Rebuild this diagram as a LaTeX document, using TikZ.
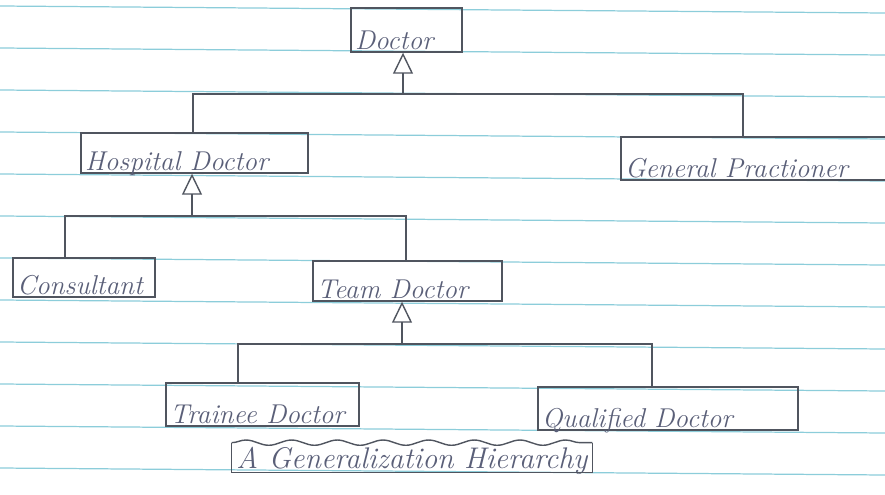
\documentclass[tikz,border=0pt]{standalone}
\usetikzlibrary{arrows.meta,fit,decorations.pathmorphing}

\definecolor{ruled}{RGB}{140,205,218}
\definecolor{pencil}{RGB}{80,85,95}
\definecolor{ink}{RGB}{90,95,120}
\newcommand\umlfont{\fontsize{15.5}{19}\selectfont\itshape}
\newcommand\umlcapfont{\fontsize{17}{20}\selectfont\itshape}
\tikzset{
  umlbox/.style={draw=pencil, line width=0.8pt, inner sep=0pt},
  umlline/.style={draw=pencil, line width=0.8pt},
  umlgen/.style={umlline, -{Triangle[open, length=0.42cm, width=0.4cm, line width=0.8pt]}},
  umllabel/.style={anchor=base west, inner sep=0pt, text=ink, font=\umlfont, xshift=2.5pt, yshift=2pt},
}

\begin{document}
\begin{tikzpicture}[x=0.02cm, y=-0.02cm]
  \useasboundingbox (0,0) rectangle (885,494);
  \clip (0,0) rectangle (885,494);
  % ruled paper
  \foreach \y in {6,48,...,510}
    \draw[ruled, line width=0.7pt] (0,\y) -- (885,\y+7);

  % classes
  \node[umlbox, fit={(351,8) (462,52)}] (doctor) {};
  \node[umllabel] (doctortext) at (doctor.south west) {Doctor};
  \node[umlbox, fit={(81,133) (308,173)}] (hosp) {};
  \node[umllabel] (hosptext) at (hosp.south west) {Hospital Doctor};
  \node[umlbox, fit={(621,137) (895,180)}] (gp) {};
  \node[umllabel] (gptext) at (gp.south west) {General Practioner};
  \node[umlbox, fit={(13,258) (155,297)}] (cons) {};
  \node[umllabel] (constext) at (cons.south west) {Consultant};
  \node[umlbox, fit={(313,261) (502,301)}] (team) {};
  \node[umllabel] (teamtext) at (team.south west) {Team Doctor};
  \node[umlbox, fit={(166,383) (359,426)}] (trainee) {};
  \node[umllabel] (traineetext) at (trainee.south west) {Trainee Doctor};
  \node[umlbox, fit={(538,387) (798,430)}] (qual) {};
  \node[umllabel] (qualtext) at (qual.south west) {Qualified Doctor};

  % generalisation: doctor
  \coordinate (bara) at (403,94);
  \coordinate (baral) at (193,94);
  \coordinate (barar) at (743,94);
  \draw[umlgen] (bara) -- (bara |- doctor.south);
  \draw[umlline] (baral |- hosp.north) -- (baral) -- (barar) -- (barar |- gp.north);

  % generalisation: hospital doctor
  \coordinate (barb) at (192,216);
  \coordinate (barbl) at (65,216);
  \coordinate (barbr) at (406,216);
  \draw[umlgen] (barb) -- (barb |- hosp.south);
  \draw[umlline] (barbl |- cons.north) -- (barbl) -- (barbr) -- (barbr |- team.north);

  % generalisation: team doctor
  \coordinate (barc) at (402,344);
  \coordinate (barcl) at (238,344);
  \coordinate (barcr) at (652,344);
  \draw[umlgen] (barc) -- (barc |- team.south);
  \draw[umlline] (barcl |- trainee.north) -- (barcl) -- (barcr) -- (barcr |- qual.north);

  % caption
  \node[inner sep=0pt, fit={(232,443) (592,472)}] (caption) {};
  \node[umllabel, font=\umlcapfont] (captiontext) at (caption.south west) {A Generalization Hierarchy};
  \draw[umlline] (caption.north west) -- (caption.south west) -- (caption.south east) -- (caption.north east);
  \draw[umlline, decorate, decoration={snake, amplitude=1.5pt, segment length=26pt}]
    (caption.north west) -- (caption.north east);
\end{tikzpicture}
\end{document}
